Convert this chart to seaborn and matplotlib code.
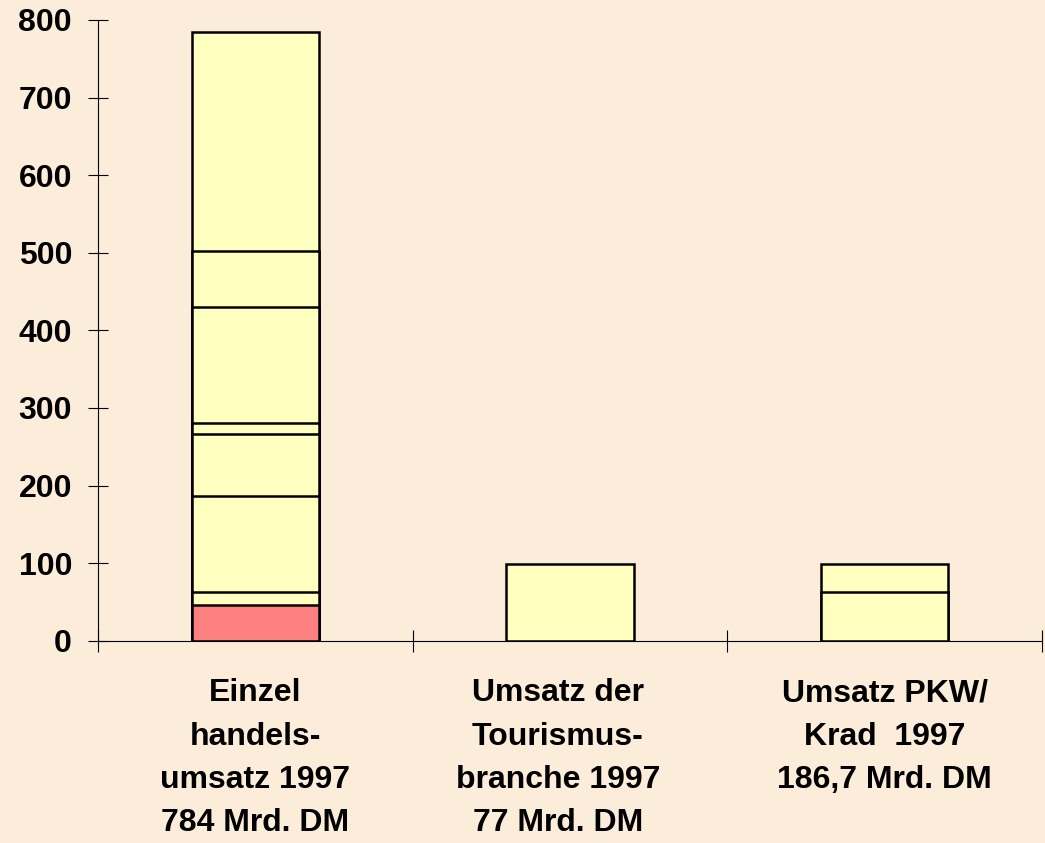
import numpy as np
import pandas as pd
import matplotlib
matplotlib.use("Agg")
import matplotlib.pyplot as plt
import matplotlib.transforms as mtransforms
import seaborn as sns

# data
categories = [
    "Einzel\nhandels-\numsatz 1997\n784 Mrd. DM",
    "Umsatz der\nTourismus-\nbranche 1997\n77 Mrd. DM",
    "Umsatz PKW/\nKrad  1997\n186,7 Mrd. DM",
]
einzelhandel_parts = [46, 17, 124, 80, 14, 149, 72, 282]
tourismus_parts = [99]
pkw_parts = [63, 36]
y_ticks = [0, 100, 200, 300, 400, 500, 600, 700, 800]

bg = "#FBEDD9"
yellow = "#FFFFC0"
red = "#FF8080"

sns.set_theme(style="white")
plt.rcParams["font.family"] = ["Liberation Sans", "DejaVu Sans"]
plt.rcParams["font.weight"] = "bold"
plt.rcParams["text.color"] = "black"
plt.rcParams["xtick.color"] = "black"
plt.rcParams["ytick.color"] = "black"

# cumulative tops per layer, long format
parts = [einzelhandel_parts, tourismus_parts, pkw_parts]
rows = []
for cat, p in zip(categories, parts):
    for layer, top in enumerate(np.cumsum(p)):
        rows.append({"category": cat, "layer": layer, "top": top})
df = pd.DataFrame(rows)

fig = plt.figure(figsize=(10.45, 8.43), dpi=100, facecolor=bg)
ax = fig.add_axes([98 / 1045, 1 - 640.7 / 843, 944 / 1045, 620.7 / 843])
ax.set_facecolor(bg)

# draw tallest cumulative layer first, smaller ones on top -> stacked look
for layer in sorted(df["layer"].unique(), reverse=True):
    sub = df[df["layer"] == layer]
    if layer == 0:
        sns.barplot(data=sub, x="category", y="top", hue="category", order=categories,
                    hue_order=categories, palette=[red, yellow, yellow], legend=False,
                    saturation=1, width=0.405, edgecolor="black", linewidth=1.8, ax=ax)
    else:
        sns.barplot(data=sub, x="category", y="top", order=categories, color=yellow,
                    saturation=1, width=0.405, edgecolor="black", linewidth=1.8, ax=ax)

ax.set_xlim(-0.5, 2.5)
ax.set_ylim(0, 800)
ax.set_yticks(y_ticks)
ax.set_yticklabels([str(v) for v in y_ticks], fontsize=23, fontweight="bold")

# category boundary ticks (major) and labels on minor ticks
ax.set_xticks([-0.5, 0.5, 1.5, 2.5])
ax.set_xticklabels([])
ax.set_xticks([0, 1, 2], minor=True)
ax.set_xticklabels(categories, minor=True, fontsize=23, fontweight="bold",
                   linespacing=1.58)
ax.tick_params(axis="x", which="minor", bottom=True, length=0, pad=27)
ax.tick_params(axis="x", which="major", bottom=True, direction="inout", length=15.8, width=0.8)
ax.tick_params(axis="y", left=True, direction="inout", length=14.4, width=0.8, pad=11.5)
ax.set_xlabel("")
ax.set_ylabel("")

# middle label sits a bit left of its category in the reference
lbl = ax.get_xticklabels(minor=True)[1]
lbl.set_transform(lbl.get_transform() + mtransforms.ScaledTranslation(-12 / 100, 0, fig.dpi_scale_trans))

for s in ["top", "right"]:
    ax.spines[s].set_visible(False)
for s in ["left", "bottom"]:
    ax.spines[s].set_color("black")
    ax.spines[s].set_linewidth(0.8)

fig.savefig("out.png", dpi=100, facecolor=bg)
